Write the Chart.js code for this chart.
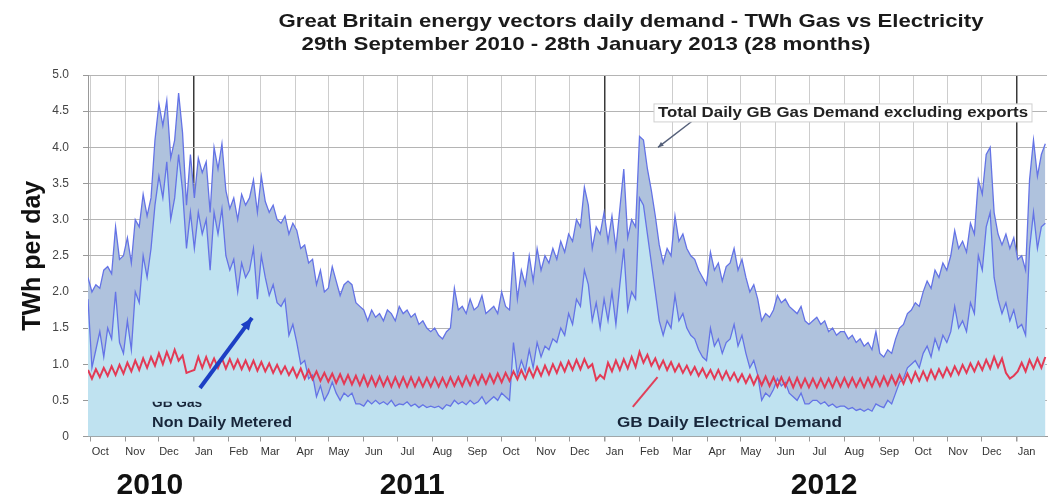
<!DOCTYPE html>
<html>
<head>
<meta charset="utf-8">
<script src="https://cdn.jsdelivr.net/npm/chart.js@4.4.1/dist/chart.umd.min.js"></script>
<style>
  html, body { margin: 0; padding: 0; background: #fff; }
  #wrap { width: 1049px; height: 497px; }
</style>
</head>
<body>
<div id="wrap"><canvas id="gasChart" width="1049" height="497"></canvas></div>
<script>
// one value every STEP days, starting 29 Sep 2010
const STEP = 3.5;
const DAYS = 852;

// Total daily GB gas demand excluding exports (TWh)
const totalGas = [
  2.2, 2.0, 2.1, 2.05, 2.3, 2.35, 2.25, 2.9, 2.45, 2.5,
  2.75, 2.4, 3.0, 2.9, 3.35, 3.05, 3.3, 4.1,
  4.6, 4.3, 4.65, 3.85, 4.1, 4.75, 4.2, 3.2, 3.9,
  3.3, 3.85, 3.65, 3.8, 3.1, 4.0, 3.7, 4.05, 3.4,
  3.15, 3.3, 3.0, 3.35, 3.2, 3.3, 3.55, 3.1,
  3.6, 3.25, 3.1, 3.2, 3.0, 2.95, 3.05, 2.8, 2.95,
  2.85, 2.6, 2.65, 2.4, 2.45, 2.1, 2.3, 2.0, 2.05,
  2.35, 2.15, 1.95, 2.1, 2.15, 2.1, 1.85, 1.8,
  1.75, 1.6, 1.75, 1.65, 1.7, 1.6, 1.75, 1.7, 1.6,
  1.8, 1.7, 1.75, 1.65, 1.7, 1.55, 1.6, 1.5, 1.45,
  1.5, 1.4, 1.35, 1.45, 1.5, 2.05, 1.75, 1.8, 1.7,
  1.9, 1.75, 1.8, 1.95, 1.7, 1.75, 1.8, 1.7,
  2.0, 1.8, 1.75, 2.55, 1.9, 2.3, 2.1, 2.5, 2.15,
  2.6, 2.3, 2.5, 2.4, 2.6, 2.45, 2.7, 2.55, 2.8,
  2.7, 3.0, 2.9, 3.45, 3.2, 2.6, 2.9, 2.8, 3.1,
  2.7, 3.05, 2.6, 3.15, 3.7, 2.75, 3.0, 2.9,
  4.15, 4.1, 3.7, 3.4, 3.05, 2.65, 2.4, 2.6, 2.5,
  3.05, 2.7, 2.8, 2.6, 2.5, 2.45, 2.3, 2.2, 2.1,
  2.55, 2.3, 2.4, 2.15, 2.35, 2.4, 2.6, 2.3,
  2.45, 2.2, 2.0, 2.1, 1.9, 1.6, 1.7, 1.65, 1.75,
  1.95, 1.85, 1.9, 1.8, 1.75, 1.7, 1.8, 1.6, 1.55,
  1.6, 1.65, 1.55, 1.6, 1.45, 1.5, 1.4, 1.45,
  1.45, 1.35, 1.4, 1.3, 1.35, 1.25, 1.3, 1.2, 1.45,
  1.15, 1.1, 1.2, 1.15, 1.35, 1.5, 1.55, 1.7, 1.75,
  1.85, 1.8, 2.0, 2.15, 2.05, 2.3, 2.2, 2.4, 2.3,
  2.5, 2.85, 2.6, 2.7, 2.55, 2.95, 2.8, 3.55,
  3.35, 3.9, 4.0, 3.1, 2.8, 2.65, 2.8, 2.6, 2.75,
  2.45, 2.5, 2.3, 3.55, 4.1, 3.6, 3.9, 4.05
];

// GB gas, non daily metered (TWh)
const ndmGas = [
  1.9, 0.95, 1.2, 1.45, 1.1, 1.5, 1.35, 2.0, 1.3, 1.15,
  1.6, 1.2, 2.0, 1.85, 2.5, 2.2, 2.6, 3.2,
  3.6, 3.3, 3.8, 3.0, 3.3, 3.9, 3.4, 2.6, 3.1,
  2.6, 3.1, 2.8, 3.0, 2.3, 3.1, 2.8, 3.15, 2.5,
  2.3, 2.45, 2.0, 2.4, 2.2, 2.3, 2.6, 1.9,
  2.5, 2.2, 1.95, 2.1, 1.85, 1.8, 1.9, 1.4, 1.55,
  1.3, 1.0, 1.05, 0.8, 0.85, 0.55, 0.7, 0.5, 0.6,
  0.75, 0.6, 0.5, 0.6, 0.55, 0.6, 0.45, 0.45,
  0.42, 0.5, 0.45, 0.5, 0.45, 0.48, 0.44, 0.5, 0.42,
  0.45, 0.44, 0.48, 0.42, 0.45, 0.4, 0.44, 0.4, 0.42,
  0.4, 0.42, 0.38, 0.44, 0.42, 0.5, 0.45, 0.48, 0.44,
  0.5, 0.45, 0.48, 0.55, 0.45, 0.5, 0.55, 0.5,
  0.6, 0.55, 0.5, 1.3, 0.85, 1.05, 0.9, 1.2, 0.95,
  1.3, 1.1, 1.25, 1.2, 1.35, 1.3, 1.5, 1.4, 1.7,
  1.55, 1.9, 1.8, 2.3, 2.1, 1.6, 1.85, 1.5, 1.9,
  1.6, 2.0, 1.55, 2.1, 2.6, 1.75, 2.0, 1.9,
  3.3, 3.2, 2.8, 2.4, 2.0, 1.6, 1.4, 1.6, 1.5,
  1.95, 1.6, 1.7, 1.5, 1.4, 1.35, 1.2, 1.1, 1.05,
  1.5, 1.25, 1.35, 1.15, 1.3, 1.35, 1.55, 1.25,
  1.4, 1.15, 0.95, 1.05, 0.85, 0.5, 0.6, 0.55, 0.65,
  0.8, 0.7, 0.75, 0.6, 0.55, 0.5, 0.6, 0.45, 0.45,
  0.5, 0.5, 0.45, 0.48, 0.42, 0.45, 0.4, 0.42,
  0.42, 0.38, 0.4, 0.36, 0.38, 0.35, 0.38, 0.35, 0.45,
  0.42, 0.4, 0.5, 0.45, 0.6, 0.75, 0.8, 0.95, 1.0,
  1.05, 0.95, 1.15, 1.25, 1.1, 1.35, 1.2, 1.4, 1.3,
  1.45, 1.8, 1.5, 1.6, 1.45, 1.85, 1.7, 2.5,
  2.3, 2.9, 3.1, 2.2, 1.9, 1.7, 1.85, 1.6, 1.75,
  1.5, 1.55, 1.4, 2.6, 3.1, 2.6, 2.9, 2.95
];

// GB daily electrical demand (TWh), weekday / weekend alternating
const elecDemand = [
  0.92, 0.8, 0.93, 0.82, 0.95, 0.84, 0.97, 0.85, 0.99, 0.87,
  1.02, 0.9, 1.05, 0.92, 1.08, 0.95, 1.1, 0.98,
  1.15, 1.0, 1.17, 1.03, 1.2, 1.05, 1.12, 0.88, 0.9,
  0.92, 1.1, 0.95, 1.1, 0.96, 1.08, 0.95, 1.08, 0.94,
  1.07, 0.94, 1.06, 0.93, 1.05, 0.92, 1.05, 0.91,
  1.03, 0.9, 1.01, 0.88, 0.99, 0.87, 0.97, 0.85, 0.95,
  0.82, 0.94, 0.8, 0.92, 0.79, 0.9, 0.77, 0.88, 0.76,
  0.87, 0.74, 0.86, 0.73, 0.85, 0.72, 0.84, 0.71,
  0.84, 0.7, 0.83, 0.7, 0.83, 0.7, 0.82, 0.69, 0.82,
  0.69, 0.82, 0.69, 0.82, 0.69, 0.81, 0.69, 0.81, 0.69,
  0.81, 0.69, 0.81, 0.69, 0.82, 0.7, 0.82, 0.7, 0.83,
  0.71, 0.84, 0.72, 0.85, 0.73, 0.86, 0.74, 0.87,
  0.75, 0.88, 0.77, 0.9, 0.79, 0.92, 0.8, 0.94, 0.82,
  0.96, 0.84, 0.98, 0.86, 1.0, 0.88, 1.02, 0.9, 1.04,
  0.92, 1.06, 0.93, 1.07, 0.95, 1.0, 0.78, 0.85, 0.8,
  1.02, 0.9, 1.05, 0.92, 1.07, 0.94, 1.1, 0.96,
  1.17, 1.02, 1.13, 0.98, 1.08, 0.94, 1.05, 0.92, 1.03,
  0.9, 1.0, 0.88, 0.98, 0.86, 0.96, 0.84, 0.94, 0.82,
  0.92, 0.8, 0.92, 0.79, 0.9, 0.78, 0.88, 0.76,
  0.86, 0.74, 0.85, 0.72, 0.84, 0.71, 0.83, 0.7, 0.82,
  0.69, 0.82, 0.69, 0.81, 0.68, 0.81, 0.68, 0.8, 0.68,
  0.8, 0.68, 0.8, 0.68, 0.8, 0.68, 0.81, 0.69,
  0.81, 0.69, 0.81, 0.69, 0.8, 0.68, 0.81, 0.69, 0.82,
  0.7, 0.83, 0.71, 0.84, 0.72, 0.85, 0.73, 0.87, 0.75,
  0.89, 0.77, 0.9, 0.78, 0.92, 0.8, 0.93, 0.82, 0.95,
  0.84, 0.97, 0.86, 0.99, 0.88, 1.01, 0.9, 1.03,
  0.92, 1.06, 0.94, 1.1, 0.96, 1.08, 0.88, 0.8, 0.84,
  0.9, 1.02, 0.9, 1.06, 0.94, 1.08, 0.95, 1.1
];

// month boundaries (days since 29 Sep 2010) and their labels
const monthStarts = [2, 33, 63, 94, 125, 153, 184, 214, 245, 275, 306, 337, 367, 398, 428,
  459, 490, 519, 550, 580, 611, 641, 672, 703, 733, 764, 794, 825];
const monthLabels = ["Oct", "Nov", "Dec", "Jan", "Feb", "Mar", "Apr", "May", "Jun", "Jul", "Aug", "Sep",
  "Oct", "Nov", "Dec", "Jan", "Feb", "Mar", "Apr", "May", "Jun", "Jul", "Aug", "Sep", "Oct", "Nov", "Dec", "Jan"];
const yearStarts = [94, 459, 825];
const yearLabels = ["2010", "2011", "2012"];
const yearLabelDays = [55, 288, 654];

const toPoints = arr => arr.map((v, i) => ({ x: i * STEP, y: v }));

const FONT = "'Liberation Sans', Arial, sans-serif";

// text squeezed or stretched to the width it has in the original picture
function fitText(ctx, text, x, y, width, align) {
  const w = ctx.measureText(text).width;
  const k = width / w;
  ctx.save();
  ctx.textAlign = "left";
  const left = align === "center" ? x - width / 2 : x;
  ctx.translate(left, y);
  ctx.scale(k, 1);
  ctx.fillText(text, 0, 0);
  ctx.restore();
}

// titles, year labels and callouts
const overlay = {
  id: "overlay",
  afterDraw(chart) {
    const { ctx, scales } = chart;
    const px = d => scales.x.getPixelForValue(d);
    const py = v => scales.y.getPixelForValue(v);
    ctx.save();

    ctx.fillStyle = "#1a1a1a";
    ctx.textBaseline = "alphabetic";
    ctx.font = "bold 19px " + FONT;
    fitText(ctx, "Great Britain energy vectors daily demand - TWh Gas vs Electricity", 631, 27, 705, "center");
    fitText(ctx, "29th September 2010 - 28th January 2013 (28 months)", 586, 50, 569, "center");

    // years under the month axis
    ctx.textAlign = "center";
    ctx.font = "bold 30px " + FONT;
    ctx.fillStyle = "#111";
    yearLabels.forEach((t, i) => ctx.fillText(t, px(yearLabelDays[i]), 494));

    const arrow = (x1, y1, x2, y2, color, w, head) => {
      ctx.strokeStyle = color;
      ctx.fillStyle = color;
      ctx.lineWidth = w;
      ctx.beginPath();
      ctx.moveTo(x1, y1);
      ctx.lineTo(x2, y2);
      ctx.stroke();
      if (head) {
        const a = Math.atan2(y2 - y1, x2 - x1);
        ctx.beginPath();
        ctx.moveTo(x2, y2);
        ctx.lineTo(x2 - head * Math.cos(a - 0.4), y2 - head * Math.sin(a - 0.4));
        ctx.lineTo(x2 - head * Math.cos(a + 0.4), y2 - head * Math.sin(a + 0.4));
        ctx.closePath();
        ctx.fill();
      }
    };
    arrow(px(99.5), py(0.67), px(145.7), py(1.64), "#1c3fc4", 4, 13);
    arrow(px(484), py(0.41), px(506), py(0.82), "#e0405a", 2, 0);
    arrow(px(536.6), py(4.36), px(506.4), py(4.0), "#55607a", 1.5, 6);

    // callout texts
    ctx.font = "bold 14px " + FONT;
    const tx = px(506.4), ty = py(4.42);
    ctx.fillStyle = "#fff";
    ctx.strokeStyle = "#d0d0d0";
    ctx.lineWidth = 1;
    ctx.fillRect(tx - 4, ty - 13, 378, 18);
    ctx.strokeRect(tx - 4, ty - 13, 378, 18);
    ctx.fillStyle = "#222";
    fitText(ctx, "Total Daily GB Gas Demand excluding exports", tx, ty, 370);

    ctx.fillStyle = "#17263a";
    ctx.save();
    ctx.beginPath();
    ctx.rect(0, py(0.5) + 1.5, chart.width, 40);
    ctx.clip();
    fitText(ctx, "GB Gas", px(56.9), py(0.41), 50);
    ctx.restore();
    fitText(ctx, "Non Daily Metered", px(56.9), py(0.13), 140);
    fitText(ctx, "GB Daily Electrical Demand", px(470), py(0.13), 225);

    ctx.restore();
  }
};

document.addEventListener("DOMContentLoaded", () => {
  const ctx = document.getElementById("gasChart").getContext("2d");

  new Chart(ctx, {
    type: "line",
    data: {
      datasets: [
        {
          label: "GB Daily Electrical Demand",
          data: toPoints(elecDemand),
          borderColor: "#e33a55",
          borderWidth: 2,
          fill: false,
          pointRadius: 0,
          tension: 0,
        },
        {
          label: "GB Gas Non Daily Metered",
          data: toPoints(ndmGas),
          borderColor: "#6473e6",
          backgroundColor: "#bfe2f0",
          borderWidth: 1.3,
          fill: "origin",
          pointRadius: 0,
          tension: 0,
        },
        {
          label: "Total Daily GB Gas Demand excluding exports",
          data: toPoints(totalGas),
          borderColor: "#6473e6",
          backgroundColor: "#afc2dd",
          borderWidth: 1.3,
          fill: "origin",
          pointRadius: 0,
          tension: 0,
        },
      ],
    },
    options: {
      responsive: false,
      animation: false,
      layout: { padding: { top: 75, right: 2, left: 0, bottom: 0 } },
      plugins: {
        legend: { display: false },
        tooltip: { enabled: false },
      },
      scales: {
        x: {
          type: "linear",
          min: 0,
          max: DAYS,
          afterBuildTicks: scale => {
            scale.ticks = monthStarts.map(v => ({ value: v }));
          },
          afterFit: scale => { scale.height = 60.5; },
          ticks: {
            autoSkip: false,
            maxRotation: 0,
            labelOffset: 10,
            padding: 4,
            color: "#333",
            font: { family: FONT, size: 11 },
            callback: (v, i) => monthLabels[i],
          },
          grid: {
            color: c => (c.tick && yearStarts.includes(c.tick.value) ? "#3a3a3a" : "#cdcdcd"),
            lineWidth: c => (c.tick && yearStarts.includes(c.tick.value) ? 1.5 : 1),
            tickColor: "#999",
            tickLength: 5,
          },
          border: { color: "#999" },
        },
        y: {
          min: 0,
          max: 5,
          afterFit: scale => { scale.width = 88; },
          ticks: {
            stepSize: 0.5,
            padding: 14,
            color: "#444",
            font: { family: FONT, size: 12 },
            callback: v => (v === 0 ? "0" : v.toFixed(1)),
          },
          grid: { color: "#b4b4b4", tickColor: "#999", tickLength: 5 },
          border: { color: "#999" },
          title: {
            display: true,
            text: "TWh per day",
            color: "#111",
            font: { family: FONT, size: 25, weight: "bold" },
            padding: { top: 18, bottom: 0 },
          },
        },
      },
    },
    plugins: [overlay],
  });
});
</script>
</body>
</html>
